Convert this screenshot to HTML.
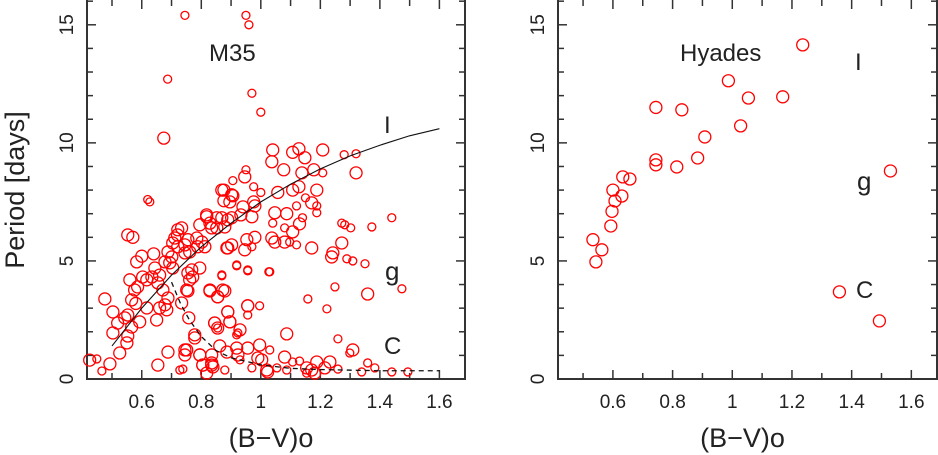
<!DOCTYPE html>
<html><head><meta charset="utf-8"><style>
html,body{margin:0;padding:0;background:#fff;}
svg{display:block;font-family:"Liberation Sans",sans-serif;}
</style></head><body>
<svg id="chart" width="938" height="455" viewBox="0 0 938 455"></svg>
<script>
// M35 data: B-V color, period (days), marker size (1 big, 0 small)
const m35BV = [0.745,0.95,0.96,0.687,0.97,0.674,1.0,0.62,
1.04,1.037,1.107,1.128,1.148,1.208,1.28,1.32,1.077,1.138,1.178,1.208,1.32,0.95,0.946,0.906,0.876,0.906,0.876,0.976,1.0,1.057,1.107,1.128,1.188,1.15,1.171,1.12,1.188,1.188,0.976,0.98,0.94,0.933,0.97,0.902,0.852,0.818,1.047,1.087,1.14,1.13,1.04,1.08,1.107,0.98,0.953,1.037,1.047,1.08,1.097,1.12,1.171,1.272,1.242,1.238,1.272,1.282,1.302,1.373,1.44,1.289,1.309,1.35,0.889,0.946,0.97,0.919,0.956,1.027,0.869,
1.249,1.359,1.474,0.829,0.879,0.855,0.755,0.734,0.956,0.996,0.956,1.158,1.222,0.889,0.758,0.845,0.896,0.93,0.855,0.919,1.087,0.778,1.259,1.309,1.299,1.359,1.383,1.44,1.494,1.339,
0.745,0.795,0.835,0.862,0.886,0.919,0.923,0.956,0.996,0.99,1.003,1.03,0.805,0.835,0.839,0.879,0.93,0.97,1.02,1.023,1.054,1.08,1.087,1.107,1.13,1.154,1.171,1.188,1.154,1.181,1.215,1.232,1.259,0.818,0.738,
0.425,0.449,0.466,0.493,0.476,0.503,0.503,0.526,0.55,0.553,0.519,0.543,0.553,0.566,0.593,0.617,0.566,0.576,0.586,0.56,0.583,0.553,0.627,0.603,0.617,0.634,0.644,0.654,0.671,0.678,0.688,0.66,0.65,0.684,0.678,0.694,0.701,0.704,0.688,0.704,0.711,0.721,0.734,0.721,0.745,0.755,0.761,0.745,0.768,0.755,0.771,0.761,0.751,0.795,0.788,0.802,0.812,0.785,0.829,0.818,0.795,0.835,0.852,0.869,0.889,0.879,0.886,0.902,0.919,0.956,1.03,0.869,0.829,0.872,0.855,0.956,0.889,0.896,0.845,0.855,0.923,0.778,0.751,0.745,0.688,0.654,0.728,0.795,0.805,0.835,
0.869,0.902,0.896,0.57,0.6,0.64,0.72,0.66,0.58];
const m35P = [15.4,15.4,15.0,12.7,12.1,10.2,11.3,7.6,
9.7,9.2,9.6,9.75,9.37,9.7,9.5,9.54,8.86,8.73,8.86,8.73,8.73,8.86,8.56,8.4,8.0,7.76,7.55,8.14,7.9,7.9,8.0,8.14,8.0,7.67,7.46,7.33,7.33,7.04,7.5,7.33,7.29,6.95,6.87,6.83,6.83,6.87,7.04,7.0,6.83,6.57,6.6,6.4,6.23,6.0,5.9,5.97,5.8,5.8,5.8,5.68,5.55,5.76,5.34,5.17,6.6,6.53,6.4,6.44,6.83,5.09,5.0,4.88,5.55,5.47,5.6,4.79,4.58,4.54,4.37,
3.9,3.6,3.82,3.73,3.73,3.48,3.73,3.22,3.1,3.1,2.71,3.39,2.97,2.84,2.59,2.37,2.42,2.08,2.16,1.87,1.91,1.74,1.7,1.23,1.1,0.68,0.47,0.3,0.3,0.3,
1.23,1.02,1.02,1.4,1.14,1.31,1.02,1.31,1.44,0.89,0.81,1.23,0.59,0.59,0.51,0.38,0.81,0.47,0.38,0.3,0.47,0.93,0.38,0.72,0.76,0.47,0.38,0.72,0.25,0.25,0.47,0.72,0.42,0.25,0.42,
0.8,0.85,0.34,0.64,3.39,2.84,1.95,1.1,1.53,1.82,2.37,2.59,2.71,2.2,2.42,3.01,3.35,3.77,3.9,4.2,4.96,6.1,7.5,4.32,4.2,4.32,4.7,4.07,3.77,3.14,3.43,3.01,2.5,2.93,4.96,4.92,5.17,4.7,5.38,5.76,5.97,6.32,6.4,5.6,5.68,5.9,5.38,5.34,4.62,4.49,4.32,4.2,3.77,4.7,5.6,5.8,5.6,5.97,6.6,6.95,6.53,6.4,6.4,6.83,6.74,6.44,5.55,5.68,4.83,4.62,4.54,4.41,3.77,3.77,3.48,3.1,2.84,2.42,2.37,2.16,1.95,1.87,1.23,1.02,1.14,0.59,0.38,1.02,0.59,0.68,
8.0,7.8,7.5,6.0,5.2,5.3,6.1,4.4,3.2];
const m35Big = [0,0,0,0,0,1,0,0,
1,1,1,1,1,1,0,0,1,1,1,0,1,0,1,0,1,1,1,0,0,1,1,1,1,0,1,0,0,0,1,1,1,1,1,1,1,1,1,1,0,1,0,0,1,1,1,1,1,1,0,0,1,1,1,1,0,0,0,0,0,0,0,0,1,1,0,0,0,0,0,
0,1,0,1,1,1,1,1,1,0,0,0,0,1,1,1,1,1,0,0,1,1,0,1,0,0,0,0,0,0,
1,1,1,1,1,1,1,1,1,1,1,0,1,1,1,0,0,0,1,1,0,1,0,0,0,1,1,1,0,1,1,1,0,1,0,
1,0,0,1,1,1,1,1,1,1,1,1,1,1,1,1,1,1,1,1,1,1,0,1,1,1,1,1,1,1,1,1,1,1,1,1,1,1,1,1,1,1,1,1,1,1,1,1,1,1,1,1,1,1,1,1,1,1,1,1,1,1,1,1,1,1,1,1,0,0,0,0,1,1,1,1,1,1,1,1,0,1,1,1,1,1,0,1,1,1,
1,1,1,1,1,1,1,1,1];
// fit curves
const curveIBV = [0.5,0.6,0.7,0.8,0.9,1.0,1.1,1.2,1.3,1.4,1.5,1.6];
const curveIP = [1.4,3.0,4.4,5.6,6.6,7.5,8.25,8.9,9.45,9.9,10.3,10.6];
const curveCBV = [0.70,0.73,0.76,0.80,0.85,0.90,1.0,1.1,1.2,1.4,1.6];
const curveCP = [4.1,3.2,2.5,1.8,1.2,0.9,0.6,0.45,0.4,0.35,0.35];
// Hyades data
const hyBV = [0.533,0.543,0.563,0.593,0.597,0.6,0.607,0.63,0.633,0.657,0.744,0.744,0.744,0.814,0.831,0.884,0.908,0.987,1.028,1.054,1.169,1.236,1.359,1.493,1.53];
const hyP = [5.9,4.96,5.47,6.48,7.1,8.0,7.54,7.75,8.56,8.47,11.5,9.07,9.28,8.98,11.4,9.36,10.25,12.63,10.72,11.9,11.95,14.15,3.69,2.46,8.81];
const xTicks = [0.6,0.8,1,1.2,1.4,1.6];
const xTickLabels = ["0.6","0.8","1","1.2","1.4","1.6"];
const yTicks = [0,5,10,15];
const yTickLabels = ["0","5","10","15"];

const NS="http://www.w3.org/2000/svg";
const svg=document.getElementById('chart');
function mk(tag,attrs,parent){const e=document.createElementNS(NS,tag);for(const k in attrs)e.setAttribute(k,attrs[k]);(parent||svg).appendChild(e);return e;}
const X0=0.416,X1=1.686,Y0=0,Y1=16.05;
function panel(left,right,name){
  const top=0,bottom=379;
  const g=mk('g',{});
  
  
  const sx=v=>left+(v-X0)/(X1-X0)*(right-left);
  const sy=v=>bottom-(v-Y0)/(Y1-Y0)*(bottom-top);
  const frame=mk('rect',{x:left,y:top-2,width:right-left,height:bottom-top+2,fill:'none',stroke:'#333','stroke-width':2},g);
  
  
  for(let t=5;t<=16;t++){const v=t/10;const x=sx(v);if(x<left+1||x>right-1)continue;const L=(t%2===0)?9:6;
    mk('line',{x1:x,x2:x,y1:bottom,y2:bottom-L,stroke:'#333','stroke-width':1.5},g);
    mk('line',{x1:x,x2:x,y1:top,y2:top+L,stroke:'#333','stroke-width':1.5},g);}
  for(let t=1;t<=16;t++){const y=sy(t);const L=(t%5===0)?9:6;
    mk('line',{x1:left,x2:left+L,y1:y,y2:y,stroke:'#333','stroke-width':1.5},g);
    mk('line',{x1:right,x2:right-L,y1:y,y2:y,stroke:'#333','stroke-width':1.5},g);}
  xTicks.forEach((v,i)=>{const t=mk('text',{x:sx(v),y:408,'font-size':19,'text-anchor':'middle',fill:'#222'},g);t.textContent=xTickLabels[i];
    
    });
  yTicks.forEach((v,i)=>{const y=sy(v);const t=mk('text',{x:0,y:0,'font-size':19,'text-anchor':'middle',fill:'#222',transform:`translate(${left-14},${y}) rotate(-90)`},g);t.textContent=yTickLabels[i];
    
    });
  const xt=mk('text',{x:(left+right)/2-5,y:447,'font-size':27,'text-anchor':'middle',fill:'#222'},g);xt.textContent='(B\u2212V)o';
  
  
  return {g,sx,sy};
}
function label(g,x,y,txt,size,name){const t=mk('text',{x:x,y:y,'font-size':size,fill:'#222'},g);t.textContent=txt;
  
  }

const A=panel(87,465,'m35-panel');
const yt=mk('text',{x:0,y:0,'font-size':27,'text-anchor':'middle',fill:'#222',transform:'translate(24,190) rotate(-90)'});
yt.textContent='Period  [days]';


m35BV.forEach((v,i)=>{const c=mk('circle',{cx:A.sx(v),cy:A.sy(m35P[i]),r:m35Big[i]?6:4,fill:'none',stroke:'#f00','stroke-width':1.3},A.g);
  
  });
const pI=mk('polyline',{points:curveIBV.map((v,i)=>A.sx(v)+','+A.sy(curveIP[i])).join(' '),fill:'none',stroke:'#111','stroke-width':1.1},A.g);


const pC=mk('polyline',{points:curveCBV.map((v,i)=>A.sx(v)+','+A.sy(curveCP[i])).join(' '),fill:'none',stroke:'#111','stroke-width':1.3,'stroke-dasharray':'5,4'},A.g);


label(A.g,209,61,'M35',24,'m35-title');
label(A.g,384,133,'I',24,'label-I');
label(A.g,385,280,'g',26,'label-g');
label(A.g,384,354,'C',24,'label-C');

const B=panel(558,937,'hyades-panel');
hyBV.forEach((v,i)=>{const c=mk('circle',{cx:B.sx(v),cy:B.sy(hyP[i]),r:6,fill:'none',stroke:'#f00','stroke-width':1.3},B.g);
  
  });
label(B.g,680,61,'Hyades',24,'hyades-title');
label(B.g,855,70,'I',24,'label-I');
label(B.g,857,190,'g',26,'label-g');
label(B.g,856,298,'C',24,'label-C');
</script>
</body></html>
